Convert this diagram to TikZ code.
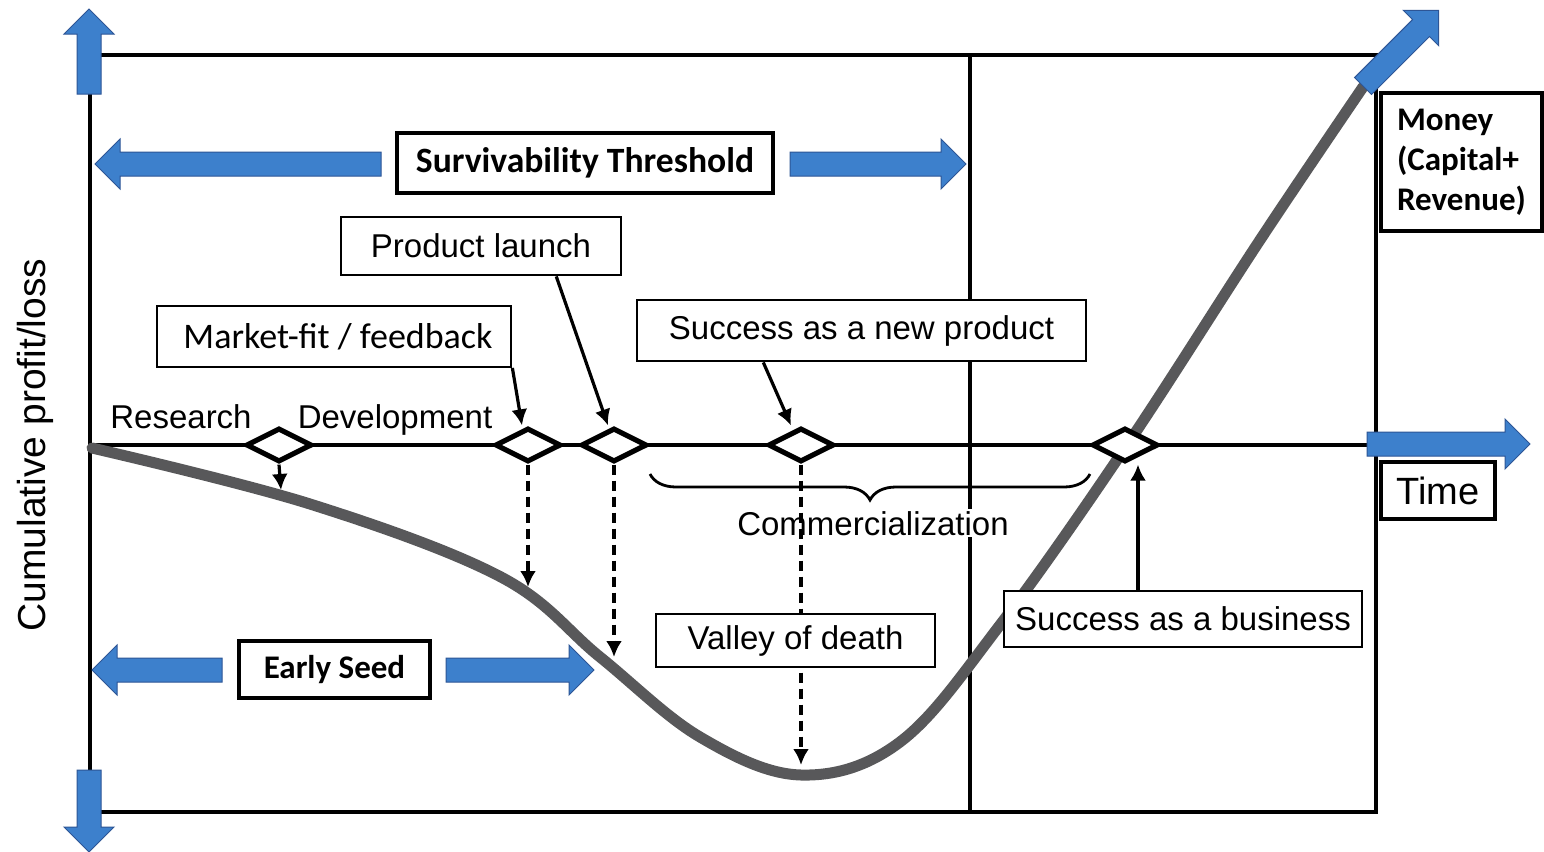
\documentclass[tikz,border=0pt]{standalone}
\usepackage{fontspec}
\setmainfont{Liberation Sans}
\newfontfamily\calfont{Carlito}
\usetikzlibrary{shapes.geometric,arrows.meta,decorations.pathreplacing}

\definecolor{arrowblue}{RGB}{61,128,204}
\definecolor{arrowedge}{RGB}{45,85,150}
\definecolor{curvegray}{RGB}{88,88,90}

% big blue arrow: tail x, tail y, length, rotation
\newcommand{\fatarrow}[4]{%
  \draw[fatarrow,shift={(#1,#2)},rotate=#4] (0,-12) -- ({#3-25},-12) -- ({#3-25},-25)
    -- (#3,0) -- ({#3-25},25) -- ({#3-25},12) -- (0,12) -- cycle;}

\begin{document}
\begin{tikzpicture}[x=0.5pt,y=-0.5pt]
\tikzstyle{frameline}=[line width=1.7pt]
\tikzstyle{plainbox}=[draw,line width=1.4pt,fill=white,inner sep=0pt,font=\fontsize{16.5}{20}\selectfont]
\tikzstyle{boldbox}=[draw,line width=2.2pt,fill=white,inner sep=0pt,font=\calfont\bfseries\fontsize{16.5}{20}\selectfont]
\tikzstyle{milestone}=[draw,diamond,line width=2.6pt,fill=white,minimum width=33pt,minimum height=17pt,inner sep=0pt]
\tikzstyle{phase}=[inner sep=0pt,font=\fontsize{16.5}{20}\selectfont]
\tikzstyle{pointer}=[-{Latex[length=8pt,width=8pt]},line width=1.6pt]
\tikzstyle{drop}=[pointer,dash pattern=on 5pt off 3pt]
\tikzstyle{fatarrow}=[fill=arrowblue,draw=arrowedge,line width=0.5pt]

\fill[white] (0,0) rectangle (1544,852);
\useasboundingbox (0,0) rectangle (1544,852);

% frame and time axis
\draw[frameline] (90,55) rectangle (1376,812);
\draw[frameline] (970,55) -- (970,812);
\draw[frameline] (90,445) -- (1367,445);

\node[rotate=90,inner sep=0pt,font=\fontsize{19.5}{22}\selectfont] (ylab) at (35,445) {Cumulative profit/loss};

% phases
\node[phase,anchor=base] (res) at (181,428) {Research};
\node[phase,anchor=base] (dev) at (395,428) {Development};
\node[phase,anchor=base,fill=white,inner sep=1pt] (comm) at (873,535) {Commercialization};
\draw[decorate,decoration={brace,mirror,amplitude=13pt},line width=1.4pt] (650,474) -- (1090,474);

% money curve
\draw[curvegray,line width=5.5pt,line cap=round] plot[smooth,tension=0.6] coordinates {
  (92,448) (310,504) (501,577) (600,657) (700,737) (801,775) (900,742)
  (1000,625) (1127,445) (1260,240) (1363,87)};

% milestones
\node[milestone] (d1) at (279,445) {};
\node[milestone] (d2) at (528,445) {};
\node[milestone] (d3) at (614,445) {};
\node[milestone] (d4) at (801,445) {};
\node[milestone] (d5) at (1125,445) {};

\coordinate (t1) at (281,490);
\coordinate (t2) at (528,587);
\coordinate (t3) at (614,657);
\coordinate (t4) at (801,765);
\draw[pointer] (d1.south) -- (t1);
\draw[drop] (d2.south) -- (t2);
\draw[drop] (d3.south) -- (t3);
\draw[drop] (d4.south) -- (t4);

% boxes
\node[boldbox,minimum width=188pt,minimum height=30pt,font=\calfont\bfseries\fontsize{17.8}{20}\selectfont] (surv) at (585,163) {Survivability Threshold};
\node[plainbox,minimum width=140pt,minimum height=29pt] (pl) at (481,246) {Product launch};
\node[plainbox,minimum width=177pt,minimum height=30.5pt,font=\calfont\fontsize{18}{20}\selectfont] (mfit) at (334,336.5) {\hspace{4pt}Market-fit / feedback};
\node[plainbox,minimum width=224.5pt,minimum height=30.5pt] (snp) at (861.5,330.5) {Success as a new product};
\node[boldbox,align=left,minimum width=80.5pt,minimum height=69pt] (money) at (1461.5,162) {Money\\(Capital+\\Revenue)};
\node[boldbox,minimum width=57pt,minimum height=28.5pt,font=\fontsize{19}{22}\selectfont] (time) at (1438,490.5) {Time};
\node[plainbox,minimum width=179pt,minimum height=28pt] (sab) at (1183,619) {Success as a business};
\node[plainbox,minimum width=139.5pt,minimum height=26.5pt] (vod) at (795.5,640.5) {Valley of death};
\node[boldbox,minimum width=95.5pt,minimum height=28.5pt] (seed) at (334.5,669.5) {Early Seed};

\draw[pointer] (mfit.-10) -- ([xshift=-3pt]d2.north);
\draw[pointer] (pl.-22) -- ([xshift=-3pt]d3.north);
\draw[pointer] (snp.198) -- ([xshift=-5pt]d4.north);
\draw[pointer] ([xshift=-22.5pt]sab.north) -- ([xshift=6.5pt]d5.south);

% blue arrows
\fatarrow{89}{94}{85}{90}
\fatarrow{89}{770}{82}{-90}
\fatarrow{381}{164}{286}{180}
\fatarrow{790}{164}{176}{0}
\fatarrow{222}{670}{130}{180}
\fatarrow{446}{670}{148}{0}
\fatarrow{1367}{444}{163}{0}
\fatarrow{1363}{86}{107}{45}
\end{tikzpicture}
\end{document}
